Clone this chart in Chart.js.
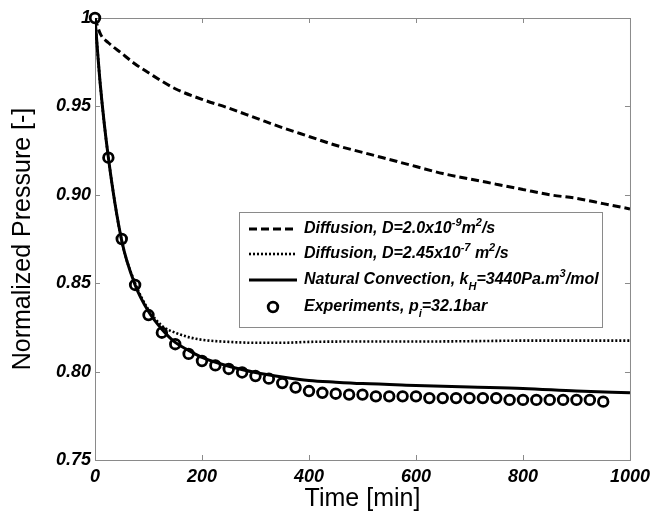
<!DOCTYPE html>
<html>
<head>
<meta charset="utf-8">
<script src="https://cdn.jsdelivr.net/npm/chart.js@4.4.1/dist/chart.umd.min.js"></script>
<style>
  html, body { margin: 0; padding: 0; background: #fff; }
  canvas { display: block; }
</style>
</head>
<body>
<canvas id="myChart" width="656" height="514"></canvas>
<script>
// Diffusion, D=2.0e-9
const dashTime = [0, 10, 25, 50, 75, 100, 150, 200, 250, 300, 350, 400, 450, 500, 550, 600, 650, 700, 750, 800, 850, 900, 950, 1000];
const dashPressure = [1.000, 0.991, 0.986, 0.980, 0.974, 0.969, 0.960, 0.954, 0.949, 0.9435, 0.938, 0.933, 0.928, 0.924, 0.920, 0.916, 0.912, 0.909, 0.906, 0.903, 0.900, 0.898, 0.895, 0.892];

// Diffusion, D=2.45e-7
const dotTime = [0, 10, 25, 50, 75, 100, 125, 150, 175, 200, 250, 300, 350, 400, 500, 600, 700, 800, 900, 1000];
const dotPressure = [1.000, 0.962, 0.921, 0.874, 0.850, 0.835, 0.826, 0.822, 0.8195, 0.818, 0.8168, 0.8163, 0.8163, 0.8168, 0.817, 0.817, 0.8172, 0.8175, 0.8175, 0.8175];

// Natural convection
const convTime = [0, 10, 25, 50, 75, 100, 125, 150, 175, 200, 250, 300, 350, 400, 450, 500, 600, 700, 800, 900, 1000];
const convPressure = [1.000, 0.962, 0.921, 0.874, 0.849, 0.834, 0.824, 0.8165, 0.812, 0.808, 0.803, 0.7995, 0.797, 0.795, 0.794, 0.7932, 0.7922, 0.7913, 0.7905, 0.789, 0.788];

// Experiments
const expTime = [0, 25, 50, 75, 100, 125, 150, 175, 200, 225, 250, 275, 300, 325, 350, 375, 400, 425, 450, 475, 500, 525, 550, 575, 600, 625, 650, 675, 700, 725, 750, 775, 800, 825, 850, 875, 900, 925, 950];
const expPressure = [1.000, 0.921, 0.875, 0.849, 0.832, 0.822, 0.8155, 0.810, 0.806, 0.8035, 0.8015, 0.7995, 0.7975, 0.796, 0.7935, 0.791, 0.789, 0.788, 0.7875, 0.787, 0.787, 0.786, 0.786, 0.786, 0.786, 0.785, 0.785, 0.785, 0.785, 0.785, 0.785, 0.784, 0.784, 0.784, 0.784, 0.784, 0.784, 0.784, 0.783];

const xTicks = [0, 200, 400, 600, 800, 1000];
const yTicks = [0.75, 0.80, 0.85, 0.90, 0.95, 1.00];

// legend text pieces: [text, 'sup' | 'sub' | '']
const legendLabels = [
    [['Diffusion, D=2.0x10', ''], ['-9', 'sup'], ['m', ''], ['2', 'sup'], ['/s', '']],
    [['Diffusion, D=2.45x10', ''], ['-7', 'sup'], [' m', ''], ['2', 'sup'], ['/s', '']],
    [['Natural Convection, k', ''], ['H', 'sub'], ['=3440Pa.m', ''], ['3', 'sup'], ['/mol', '']],
    [['Experiments, p', ''], ['i', 'sub'], ['=32.1bar', '']]
];

const toPoints = (xs, ys) => xs.map((x, i) => ({ x: x, y: ys[i] }));

const axisGray = '#8a8a8a';
const tickFont = { family: 'Liberation Sans', size: 18, weight: 'bold', style: 'italic' };

// box round the plot plus inward ticks on all sides
const frameTicks = {
    id: 'frameTicks',
    beforeDatasetsDraw(chart) {
        const { ctx, chartArea: a, scales: { x, y } } = chart;
        ctx.save();
        ctx.strokeStyle = axisGray;
        ctx.lineWidth = 1;
        ctx.strokeRect(a.left + 0.5, a.top + 0.5, a.right - a.left, a.bottom - a.top);
        ctx.beginPath();
        xTicks.forEach(v => {
            const px = Math.round(x.getPixelForValue(v)) + 0.5;
            ctx.moveTo(px, a.bottom); ctx.lineTo(px, a.bottom - 5);
            ctx.moveTo(px, a.top); ctx.lineTo(px, a.top + 5);
        });
        yTicks.forEach(v => {
            const py = Math.round(y.getPixelForValue(v)) + 0.5;
            ctx.moveTo(a.left, py); ctx.lineTo(a.left + 5, py);
            ctx.moveTo(a.right, py); ctx.lineTo(a.right - 5, py);
        });
        ctx.stroke();
        ctx.restore();
    }
};

// legend with super/subscripts, Chart.js legend can't do that
const richLegend = {
    id: 'richLegend',
    afterDraw(chart) {
        const { ctx } = chart;
        const box = { x: 239.5, y: 212.5, w: 363, h: 115 };
        const rows = [229, 254, 280, 307];
        ctx.save();
        ctx.fillStyle = '#fff';
        ctx.fillRect(box.x, box.y, box.w, box.h);
        ctx.strokeStyle = axisGray;
        ctx.lineWidth = 1;
        ctx.strokeRect(box.x, box.y, box.w, box.h);

        chart.data.datasets.forEach((ds, i) => {
            const ry = rows[i];
            ctx.strokeStyle = '#000';
            ctx.lineWidth = ds.borderWidth;
            ctx.setLineDash(ds.borderDash || []);
            if (ds.showLine === false) {
                ctx.beginPath();
                ctx.arc(273, ry, ds.pointRadius, 0, Math.PI * 2);
                ctx.stroke();
            } else {
                ctx.beginPath();
                ctx.moveTo(249, ry);
                ctx.lineTo(297, ry);
                ctx.stroke();
            }
            ctx.setLineDash([]);

            let tx = 304;
            ctx.fillStyle = '#000';
            ctx.textBaseline = 'middle';
            legendLabels[i].forEach(([txt, kind]) => {
                const size = kind ? 11 : 16;
                const dy = kind === 'sup' ? -6 : kind === 'sub' ? 7 : 0;
                ctx.font = 'italic bold ' + size + 'px "Liberation Sans"';
                ctx.fillText(txt, tx, ry + dy);
                tx += ctx.measureText(txt).width;
            });
        });
        ctx.restore();
    }
};

const ctx = document.getElementById('myChart');
new Chart(ctx, {
    type: 'scatter',
    data: {
        datasets: [
            {
                label: 'Diffusion, D=2.0x10-9 m2/s',
                data: toPoints(dashTime, dashPressure),
                showLine: true,
                borderColor: '#000',
                borderWidth: 3,
                borderDash: [8, 4],
                pointRadius: 0,
                cubicInterpolationMode: 'monotone'
            },
            {
                label: 'Diffusion, D=2.45x10-7 m2/s',
                data: toPoints(dotTime, dotPressure),
                showLine: true,
                borderColor: '#000',
                borderWidth: 2.6,
                borderDash: [2, 2],
                pointRadius: 0,
                cubicInterpolationMode: 'monotone'
            },
            {
                label: 'Natural Convection, kH=3440Pa.m3/mol',
                data: toPoints(convTime, convPressure),
                showLine: true,
                borderColor: '#000',
                borderWidth: 3,
                pointRadius: 0,
                cubicInterpolationMode: 'monotone'
            },
            {
                label: 'Experiments, pi=32.1bar',
                data: toPoints(expTime, expPressure),
                showLine: false,
                borderColor: '#000',
                backgroundColor: 'rgba(0,0,0,0)',
                borderWidth: 2.8,
                pointRadius: 4.8,
                pointHoverRadius: 4.8,
                clip: false
            }
        ]
    },
    options: {
        responsive: false,
        animation: false,
        events: [],
        layout: { padding: { top: 18, right: 24, left: 0, bottom: 0 } },
        plugins: {
            legend: { display: false },
            tooltip: { enabled: false }
        },
        scales: {
            x: {
                type: 'linear',
                min: 0,
                max: 1000,
                afterFit: s => { s.height = 54; },
                afterBuildTicks: s => { s.ticks = xTicks.map(v => ({ value: v })); },
                grid: { display: false, drawTicks: false },
                border: { display: false },
                ticks: { font: tickFont, color: '#000', padding: 6, maxRotation: 0, callback: v => String(v) },
                title: {
                    display: true,
                    text: 'Time [min]',
                    font: { family: 'Liberation Sans', size: 25 },
                    color: '#000',
                    padding: { top: 0, bottom: 0 }
                }
            },
            y: {
                type: 'linear',
                min: 0.75,
                max: 1,
                afterFit: s => { s.width = 95; },
                afterBuildTicks: s => { s.ticks = yTicks.map(v => ({ value: v })); },
                grid: { display: false, drawTicks: false },
                border: { display: false },
                ticks: {
                    font: tickFont,
                    color: '#000',
                    padding: 4,
                    callback: v => (Math.abs(v - 1) < 1e-9 ? '1' : v.toFixed(2))
                },
                title: {
                    display: true,
                    text: 'Normalized Pressure [-]',
                    font: { family: 'Liberation Sans', size: 25 },
                    color: '#000',
                    padding: { top: 8, bottom: 0 }
                }
            }
        }
    },
    plugins: [frameTicks, richLegend]
});
</script>
</body>
</html>
